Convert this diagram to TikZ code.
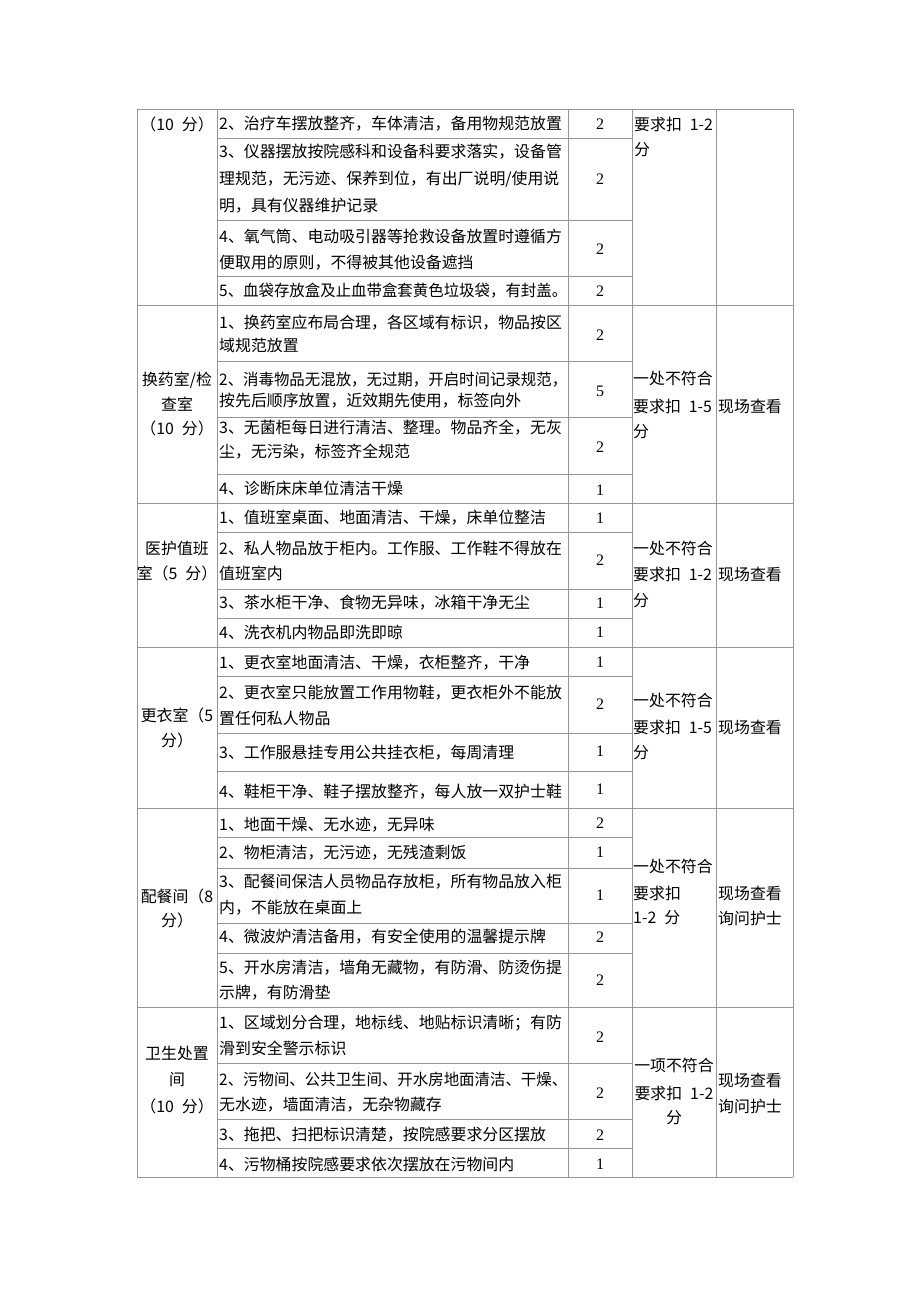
\documentclass[tikz,border=0pt]{standalone}
\usepackage{fontspec}
\newfontfamily\cjk{Noto Sans CJK SC}
\newfontfamily\numf{Liberation Serif}
\definecolor{grid}{RGB}{150,150,150}
\newcommand\fl[1]{\sbox0{#1}\ifdim\wd0>348pt \resizebox{348pt}{\height}{#1}\else #1\fi}
\newcommand\gapsp{\hspace{0.5em}}
\tikzset{
  txt/.style={inner sep=0pt, anchor=west, font=\cjk\fontsize{15.9}{18}\selectfont},
  ctr/.style={inner sep=0pt, anchor=center, font=\cjk\fontsize{15.9}{18}\selectfont},
  numc/.style={inner sep=0pt, anchor=center, font=\numf\fontsize{16}{18}\selectfont},
  gridline/.style={draw=grid, line width=1pt}
}
\begin{document}
\begin{tikzpicture}[x=1pt,y=-1pt]
\fill[white] (0,0) rectangle (920,1302);
\useasboundingbox (0,0) rectangle (920,1302);
% grid
\foreach \x in {137,217,568,632,716,793} \draw[gridline] (\x,109) -- (\x,1177);
\foreach \y in {109,305,503,647,808,1007,1177} \draw[gridline] (137,\y) -- (793,\y);
\foreach \y in {138,220,276, 361,417,474, 532,589,618, 676,733,771, 837,868,923,953, 1063,1119,1148}
  \draw[gridline] (217,\y) -- (632,\y);
% ---------------- section 1
\node[ctr] (s1c1) at (177,124) {（10\gapsp 分）};
\node[txt] (s1a) at (219,124) {\fl{2、治疗车摆放整齐，车体清洁，备用物规范放置}};
\node[txt] (s1b) at (219,152) {\fl{3、仪器摆放按院感科和设备科要求落实，设备管}};
\node[txt] (s1c) at (219,179) {\fl{理规范，无污迹、保养到位，有出厂说明/使用说}};
\node[txt] (s1d) at (219,206) {明，具有仪器维护记录};
\node[txt] (s1e) at (219,236) {\fl{4、氧气筒、电动吸引器等抢救设备放置时遵循方}};
\node[txt] (s1f) at (219,263) {便取用的原则，不得被其他设备遮挡};
\node[txt] (s1g) at (219,291) {\fl{5、血袋存放盒及止血带盒套黄色垃圾袋，有封盖。}};
\node[numc] (s1n1) at (600,124) {2};
\node[numc] (s1n2) at (600,179) {2};
\node[numc] (s1n3) at (600,249) {2};
\node[numc] (s1n4) at (600,291) {2};
\node[txt] (s1d1) at (634,124) {要求扣\gapsp 1-2};
\node[txt] (s1d2) at (634,150) {分};
% ---------------- section 2
\node[ctr] (s2c1) at (177,380) {换药室/检};
\node[ctr] (s2c2) at (177,404) {查室};
\node[ctr] (s2c3) at (177,428) {（10\gapsp 分）};
\node[txt] (s2a) at (219,323) {\fl{1、换药室应布局合理，各区域有标识，物品按区}};
\node[txt] (s2b) at (219,345) {域规范放置};
\node[txt] (s2c) at (219,380) {\fl{2、消毒物品无混放，无过期，开启时间记录规范，}};
\node[txt] (s2d) at (219,401) {按先后顺序放置，近效期先使用，标签向外};
\node[txt] (s2e) at (219,428) {\fl{3、无菌柜每日进行清洁、整理。物品齐全，无灰}};
\node[txt] (s2f) at (219,452) {尘，无污染，标签齐全规范};
\node[txt] (s2g) at (219,488) {4、诊断床床单位清洁干燥};
\node[numc] (s2n1) at (600,335) {2};
\node[numc] (s2n2) at (600,391) {5};
\node[numc] (s2n3) at (600,447) {2};
\node[numc] (s2n4) at (600,490) {1};
\node[txt] (s2d1) at (633,378) {一处不符合};
\node[txt] (s2d2) at (633,406) {要求扣\gapsp 1-5};
\node[txt] (s2d3) at (633,432) {分};
\node[txt] (s2m) at (718,406) {现场查看};
% ---------------- section 3
\node[ctr] (s3c1) at (177,548) {医护值班};
\node[ctr] (s3c2) at (177,573) {室（5\gapsp 分）};
\node[txt] (s3a) at (219,518) {1、值班室桌面、地面清洁、干燥，床单位整洁};
\node[txt] (s3b) at (219,548) {\fl{2、私人物品放于柜内。工作服、工作鞋不得放在}};
\node[txt] (s3c) at (219,573) {值班室内};
\node[txt] (s3d) at (219,603) {3、茶水柜干净、食物无异味，冰箱干净无尘};
\node[txt] (s3e) at (219,632) {4、洗衣机内物品即洗即晾};
\node[numc] (s3n1) at (600,518) {1};
\node[numc] (s3n2) at (600,560) {2};
\node[numc] (s3n3) at (600,603) {1};
\node[numc] (s3n4) at (600,632) {1};
\node[txt] (s3d1) at (633,548) {一处不符合};
\node[txt] (s3d2) at (633,574) {要求扣\gapsp 1-2};
\node[txt] (s3d3) at (633,601) {分};
\node[txt] (s3m) at (718,574) {现场查看};
% ---------------- section 4
\node[ctr] (s4c1) at (177,715) {更衣室（5};
\node[ctr] (s4c2) at (177,740) {分）};
\node[txt] (s4a) at (219,663) {1、更衣室地面清洁、干燥，衣柜整齐，干净};
\node[txt] (s4b) at (219,693) {\fl{2、更衣室只能放置工作用物鞋，更衣柜外不能放}};
\node[txt] (s4c) at (219,718) {置任何私人物品};
\node[txt] (s4d) at (219,753) {3、工作服悬挂专用公共挂衣柜，每周清理};
\node[txt] (s4e) at (219,792) {\fl{4、鞋柜干净、鞋子摆放整齐，每人放一双护士鞋}};
\node[numc] (s4n1) at (600,662) {1};
\node[numc] (s4n2) at (600,704) {2};
\node[numc] (s4n3) at (600,751) {1};
\node[numc] (s4n4) at (600,789) {1};
\node[txt] (s4d1) at (633,700) {一处不符合};
\node[txt] (s4d2) at (633,727) {要求扣\gapsp 1-5};
\node[txt] (s4d3) at (633,753) {分};
\node[txt] (s4m) at (718,727) {现场查看};
% ---------------- section 5
\node[ctr] (s5c1) at (177,896) {配餐间（8};
\node[ctr] (s5c2) at (177,920) {分）};
\node[txt] (s5a) at (219,825) {1、地面干燥、无水迹，无异味};
\node[txt] (s5b) at (219,853) {2、物柜清洁，无污迹，无残渣剩饭};
\node[txt] (s5c) at (219,882) {\fl{3、配餐间保洁人员物品存放柜，所有物品放入柜}};
\node[txt] (s5d) at (219,908) {内，不能放在桌面上};
\node[txt] (s5e) at (219,937) {4、微波炉清洁备用，有安全使用的温馨提示牌};
\node[txt] (s5f) at (219,968) {\fl{5、开水房清洁，墙角无藏物，有防滑、防烫伤提}};
\node[txt] (s5g) at (219,993) {示牌，有防滑垫};
\node[numc] (s5n1) at (600,823) {2};
\node[numc] (s5n2) at (600,852) {1};
\node[numc] (s5n3) at (600,895) {1};
\node[numc] (s5n4) at (600,937) {2};
\node[numc] (s5n5) at (600,980) {2};
\node[txt] (s5d1) at (633,866) {一处不符合};
\node[txt] (s5d2) at (633,893) {要求扣};
\node[txt] (s5d3) at (633,918) {1-2\gapsp 分};
\node[txt] (s5m1) at (718,893) {现场查看};
\node[txt] (s5m2) at (718,918) {询问护士};
% ---------------- section 6
\node[ctr] (s6c1) at (177,1053) {卫生处置};
\node[ctr] (s6c2) at (177,1080) {间};
\node[ctr] (s6c3) at (177,1106) {（10\gapsp 分）};
\node[txt] (s6a) at (219,1023) {\fl{1、区域划分合理，地标线、地贴标识清晰；有防}};
\node[txt] (s6b) at (219,1048) {滑到安全警示标识};
\node[txt] (s6c) at (219,1079) {\fl{2、污物间、公共卫生间、开水房地面清洁、干燥、}};
\node[txt] (s6d) at (219,1105) {无水迹，墙面清洁，无杂物藏存};
\node[txt] (s6e) at (219,1135) {3、拖把、扫把标识清楚，按院感要求分区摆放};
\node[txt] (s6f) at (219,1164) {4、污物桶按院感要求依次摆放在污物间内};
\node[numc] (s6n1) at (600,1037) {2};
\node[numc] (s6n2) at (600,1093) {2};
\node[numc] (s6n3) at (600,1135) {2};
\node[numc] (s6n4) at (600,1164) {1};
\node[ctr] (s6d1) at (674,1065) {一项不符合};
\node[ctr] (s6d2) at (674,1093) {要求扣\gapsp 1-2};
\node[ctr] (s6d3) at (674,1118) {分};
\node[txt] (s6m1) at (718,1080) {现场查看};
\node[txt] (s6m2) at (718,1106) {询问护士};
\end{tikzpicture}
\end{document}
